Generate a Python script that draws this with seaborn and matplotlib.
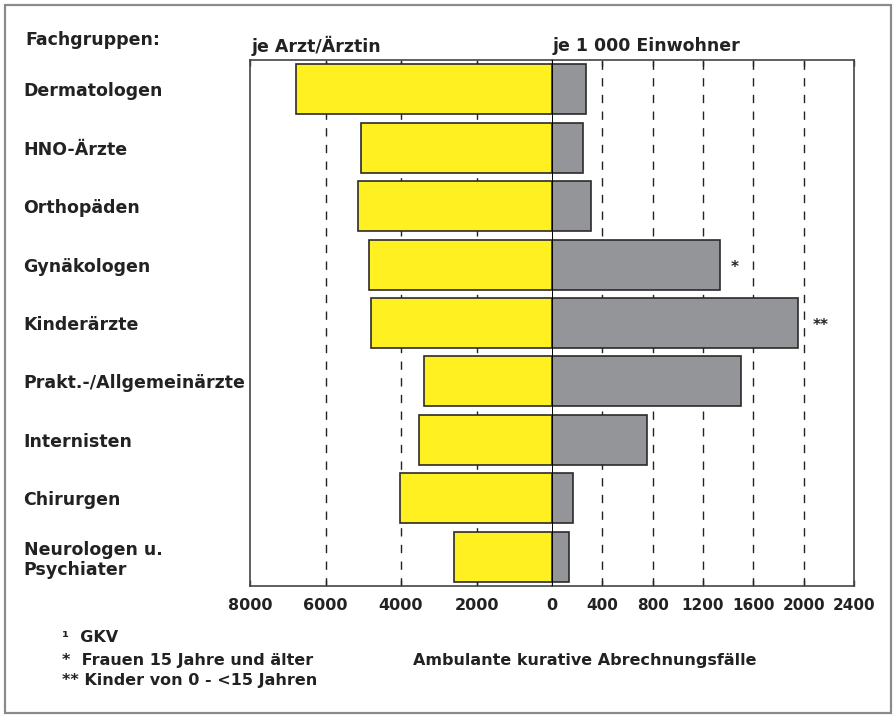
import matplotlib
matplotlib.use("Agg")
import matplotlib.pyplot as plt
import seaborn as sns
import pandas as pd
from matplotlib.patches import Rectangle

# ---- data ----
categories = ["Dermatologen", "HNO-Ärzte", "Orthopäden", "Gynäkologen", "Kinderärzte",
              "Prakt.-/Allgemeinärzte", "Internisten", "Chirurgen", "Neurologen u.\nPsychiater"]
je_arzt = [6790, 5060, 5140, 4840, 4795, 3380, 3515, 4025, 2590]
je_1000_einwohner = [270, 249, 307, 1333, 1954, 1502, 753, 165, 135]
markers = ["", "", "", "*", "**", "", "", "", ""]
left_ticks = [8000, 6000, 4000, 2000, 0]
right_ticks = [400, 800, 1200, 1600, 2000, 2400]
footnotes = ["¹  GKV", "*  Frauen 15 Jahre und älter", "** Kinder von 0 - <15 Jahren"]

df = pd.DataFrame({"Fachgruppe": categories, "arzt": je_arzt, "einw": je_1000_einwohner})

sns.set_theme(style="white")
plt.rcParams["font.family"] = ["DejaVu Sans"]
plt.rcParams["font.weight"] = "bold"

W, H = 896, 718
fig = plt.figure(figsize=(W / 100, H / 100), dpi=100)

def fx(x):
    return x / W

def fy(y):
    return 1 - y / H

left_px, zero_px, right_px, top_px, bot_px = 250, 552, 854, 60, 586
axL = fig.add_axes([fx(left_px), fy(bot_px), fx(zero_px - left_px), (bot_px - top_px) / H])
axR = fig.add_axes([fx(zero_px), fy(bot_px), fx(right_px - zero_px), (bot_px - top_px) / H])

yellow = "#FFF022"
grey = "#939598"
edge = "#2b2b2b"

sns.barplot(data=df, x="arzt", y="Fachgruppe", orient="h", ax=axL, color=yellow,
            edgecolor=edge, linewidth=1.2, width=0.855, saturation=1, zorder=3)
sns.barplot(data=df, x="einw", y="Fachgruppe", orient="h", ax=axR, color=grey,
            edgecolor=edge, linewidth=1.2, width=0.855, saturation=1, zorder=3)

axL.set_xlim(8000, 0)
axR.set_xlim(0, 2400)
for ax in (axL, axR):
    ax.set_ylim(len(categories) - 0.5, -0.5)
    ax.set_xlabel("")
    ax.set_ylabel("")

grid_kw = dict(color="#222222", linewidth=1.0, linestyle=(0, (6, 6)), zorder=1)
for v in left_ticks[1:-1]:
    axL.axvline(v, **grid_kw)
for v in right_ticks[:-1]:
    axR.axvline(v, **grid_kw)

axR.axvline(0, color="black", linewidth=1.4, zorder=5)

axL.set_xticks(left_ticks)
axL.set_xticklabels([str(t) for t in left_ticks], fontsize=11.5, fontweight="bold", color="#222222")
axR.set_xticks(right_ticks)
axR.set_xticklabels([str(t) for t in right_ticks], fontsize=11, fontweight="bold", color="#222222")
for ax in (axL, axR):
    ax.tick_params(axis="x", direction="in", length=4, width=1, color="#333333",
                   top=True, bottom=True, pad=9)

axL.set_yticks(range(len(categories)))
axL.set_yticklabels(categories, fontsize=12.5, fontweight="bold", color="#222222",
                    ha="left", linespacing=1.15)
axL.tick_params(axis="y", length=0, pad=163)
axR.set_yticks([])

for sp in axL.spines.values():
    sp.set_color("#444444")
    sp.set_linewidth(1.2)
for sp in axR.spines.values():
    sp.set_color("#444444")
    sp.set_linewidth(1.2)
axL.spines["right"].set_visible(False)
axR.spines["left"].set_visible(False)

# markers next to grey bars
offsets = {"*": 8, "**": 11}
for i, (m, v) in enumerate(zip(markers, je_1000_einwohner)):
    if m:
        axR.annotate(m, xy=(v, i), xytext=(offsets[m], -2), textcoords="offset points",
                     ha="left", va="center", fontsize=11, fontweight="bold", color="#222222")

# headers
fig.text(fx(25), fy(40), "Fachgruppen:", fontsize=12.5, fontweight="bold", color="#222222",
         ha="left", va="center")
fig.text(fx(252), fy(46), "je Arzt/Ärztin", fontsize=12.5, fontweight="bold", color="#222222",
         ha="left", va="center")
fig.text(fx(553), fy(46), "je 1 000 Einwohner", fontsize=12.5, fontweight="bold", color="#222222",
         ha="left", va="center")

# footnotes
foot_y = [637, 661, 681]
for t, y in zip(footnotes, foot_y):
    fig.text(fx(62), fy(y), t, fontsize=11.5, fontweight="bold", color="#222222",
             ha="left", va="center")
fig.text(fx(585), fy(661), "Ambulante kurative Abrechnungsfälle", fontsize=11.5,
         fontweight="bold", color="#222222", ha="center", va="center")

# outer border
fig.patches.append(Rectangle((fx(5), fy(713)), fx(886), (708) / H, transform=fig.transFigure,
                             fill=False, edgecolor="#8a8a8a", linewidth=1.6))

fig.savefig("out.png", dpi=100)
